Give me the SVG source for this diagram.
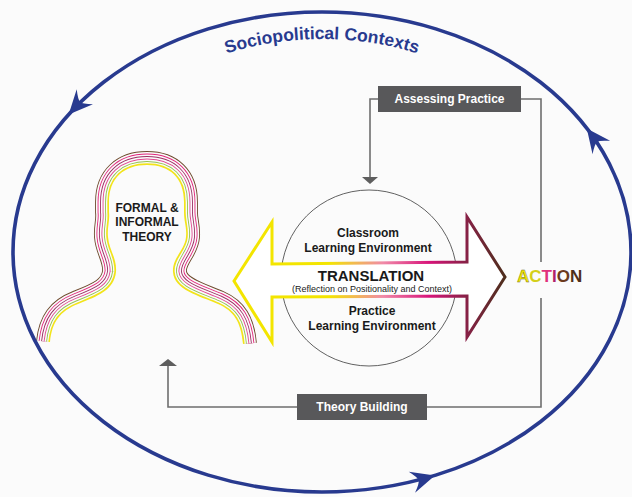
<svg xmlns="http://www.w3.org/2000/svg" width="632" height="497" viewBox="0 0 632 497">
<defs>
<style>
.t{font-family:"Liberation Sans",Arial,sans-serif;font-weight:bold;fill:#1a1a1a;text-anchor:middle}
.w{font-family:"Liberation Sans",Arial,sans-serif;font-weight:bold;fill:#ffffff;text-anchor:middle;font-size:12px}
.blue{fill:none;stroke:#283a8f;stroke-width:3.6}
.ah{fill:#283a8f}
.hd{fill:none;stroke-linejoin:round;stroke-linecap:butt}
.conn{fill:none;stroke:#6e6e6e;stroke-width:1.6}
.cah{fill:#5e5e5e}
.box{fill:#58585a}
</style>
<linearGradient id="ag" gradientUnits="userSpaceOnUse" x1="234" y1="0" x2="505" y2="0">
<stop offset="0" stop-color="#f3e500"/>
<stop offset="0.35" stop-color="#f3e500"/>
<stop offset="0.55" stop-color="#f08aa8"/>
<stop offset="0.72" stop-color="#d8147a"/>
<stop offset="0.85" stop-color="#8a2048"/>
<stop offset="1" stop-color="#4e2e1c"/>
</linearGradient>
<path id="headp" d="M50,342 C52,322 60,311 78,304 C98,296 114,290 116,272 C117,258 109,250 108,237 C107,227 110,222 109,212 L109,202 C109,178 124,165 147,165 C170,165 184,178 184,202 L184,212 C184,222 187,227 186,237 C185,250 172,258 173,272 C174,290 200,296 218,304 C234,311 241,322 243,344"/>
<path id="arcp" d="M58,254 A264,215 0 0 1 586,254"/>
<path id="arrh" d="M2,0 L-22,-11 Q-15,-3 -15,0 Q-15,3 -22,11 Z"/>
</defs>
<rect x="0" y="0" width="632" height="497" fill="#fbfbfb"/>

<g id="theory">
<use href="#headp" class="hd" stroke="#6e4a2e" stroke-width="27.8"/>
<use href="#headp" class="hd" stroke="#fbfbfb" stroke-width="26"/>
<use href="#headp" class="hd" stroke="#e2267c" stroke-width="22.8"/>
<use href="#headp" class="hd" stroke="#fbfbfb" stroke-width="21"/>
<use href="#headp" class="hd" stroke="#9c2f63" stroke-width="17.8"/>
<use href="#headp" class="hd" stroke="#fbfbfb" stroke-width="16"/>
<use href="#headp" class="hd" stroke="#e04a92" stroke-width="12.8"/>
<use href="#headp" class="hd" stroke="#fbfbfb" stroke-width="11"/>
<use href="#headp" class="hd" stroke="#93c152" stroke-width="7.8"/>
<use href="#headp" class="hd" stroke="#fbfbfb" stroke-width="6"/>
<use href="#headp" class="hd" stroke="#f2e41a" stroke-width="3.4"/>
<path fill="#fbfbfb" d="M50,342 C52,322 60,311 78,304 C98,296 114,290 116,272 C117,258 109,250 108,237 C107,227 110,222 109,212 L109,202 C109,178 124,165 147,165 C170,165 184,178 184,202 L184,212 C184,222 187,227 186,237 C185,250 172,258 173,272 C174,290 200,296 218,304 C234,311 241,322 243,344 L243,350 L50,350 Z"/>
<text class="t" font-size="12"><tspan x="147" y="212">FORMAL &amp;</tspan><tspan x="147" y="226">INFORMAL</tspan><tspan x="147" y="241">THEORY</tspan></text>
</g>

<g id="context">
<ellipse class="blue" cx="322" cy="252" rx="309" ry="240"/>
<use href="#arrh" class="ah" transform="translate(70,113) rotate(132.4)"/>
<use href="#arrh" class="ah" transform="translate(588,130) rotate(-127.2)"/>
<use href="#arrh" class="ah" transform="translate(433,476) rotate(-16.6)"/>
<text font-family="Liberation Sans,Arial,sans-serif" font-weight="bold" font-size="17.5" fill="#283a8f" text-anchor="middle"><textPath href="#arcp" startOffset="50%">Sociopolitical Contexts</textPath></text>
</g>

<g id="translation">
<circle cx="369" cy="278" r="88" fill="none" stroke="#3a3a3a" stroke-width="0.8"/>
<polygon points="234,281 272,222 272,264 467,262 467,217 505,277 467,337 467,296 272,297 272,342" fill="#ffffff" stroke="url(#ag)" stroke-width="3" stroke-linejoin="miter"/>
<text class="t" font-size="12"><tspan x="368" y="237">Classroom</tspan><tspan x="368" y="252">Learning Environment</tspan></text>
<text class="t" font-size="15" x="371" y="281">TRANSLATION</text>
<text font-family="Liberation Sans,Arial,sans-serif" font-size="9" fill="#1a1a1a" text-anchor="middle" x="372" y="292">(Reflection on Positionality and Context)</text>
<text class="t" font-size="12"><tspan x="372" y="315">Practice</tspan><tspan x="372" y="330">Learning Environment</tspan></text>
</g>

<g id="action">
<text font-family="Liberation Sans,Arial,sans-serif" font-weight="bold" font-size="17" x="517" y="282"><tspan fill="#f2e400" stroke="#6a6a30" stroke-width="0.4">A</tspan><tspan fill="#d4cf1a">C</tspan><tspan fill="#e0307a">T</tspan><tspan fill="#b0206a">I</tspan><tspan fill="#6b3a1e">O</tspan><tspan fill="#4f2f1a">N</tspan></text>
</g>

<g id="connectors">
<path class="conn" d="M378,99 H370 V179"/>
<polygon class="cah" points="362,177 378,177 370,184"/>
<path class="conn" d="M521,99 H541 V262"/>
<path class="conn" d="M541,298 V407 H427"/>
<path class="conn" d="M297,407 H168 V365"/>
<polygon class="cah" points="159,366 177,366 168,359"/>
</g>

<g id="assessing">
<rect class="box" x="378" y="86" width="143" height="26"/>
<text class="w" x="449.5" y="103">Assessing Practice</text>
</g>

<g id="building">
<rect class="box" x="297" y="394" width="130" height="26"/>
<text class="w" x="362" y="411">Theory Building</text>
</g>
</svg>
